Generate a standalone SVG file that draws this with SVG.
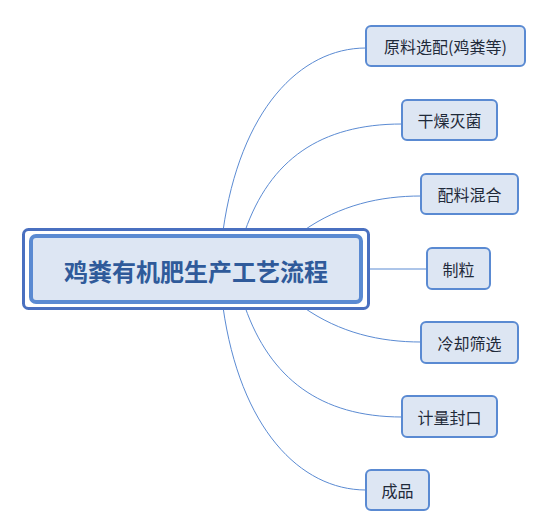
<svg xmlns="http://www.w3.org/2000/svg" width="538" height="517" viewBox="0 0 538 517">
<style>
.c{fill:none;stroke:#5b8bd3;stroke-width:1}
.n{fill:#dde6f3;stroke:#5a8ad2;stroke-width:2}
.t{font-family:"Noto Sans CJK SC","Noto Sans",sans-serif;font-size:16px;fill:#1f2a3a;text-anchor:middle;dominant-baseline:central}
.m{font-family:"Noto Sans CJK SC","Noto Sans",sans-serif;font-size:24px;font-weight:bold;fill:#2f5a9a;text-anchor:middle;dominant-baseline:central}
</style>
<rect width="538" height="517" fill="#ffffff"/>
<g id="connectors">
<path class="c" d="M223,231 C240,110 300,48 366,48"/>
<path class="c" d="M245,231 C270,160 320,124 402,124"/>
<path class="c" d="M303,231 C340,205 380,196 421,196"/>
<path class="c" d="M369,269 L427,269"/>
<path class="c" d="M303,307 C340,333 380,342 421,342"/>
<path class="c" d="M245,307 C270,378 320,417 402,417"/>
<path class="c" d="M223,307 C240,428 300,490 366,490"/>
</g>
<g id="center">
<rect x="23.5" y="229.5" width="345" height="79" rx="5" fill="#ffffff" stroke="#4a70c0" stroke-width="3"/>
<rect x="31" y="236" width="330" height="66" rx="5" fill="#dde6f3" stroke="#5a8ad2" stroke-width="4"/>
<text class="m" x="196" y="270">鸡粪有机肥生产工艺流程</text>
</g>
<g id="n1"><rect class="n" x="366" y="26" width="159" height="40" rx="5"/><text class="t" x="445.5" y="46">原料选配(鸡粪等)</text></g>
<g id="n2"><rect class="n" x="402" y="100" width="95" height="40" rx="5"/><text class="t" x="449.5" y="120">干燥灭菌</text></g>
<g id="n3"><rect class="n" x="421" y="174" width="97" height="40" rx="5"/><text class="t" x="469.5" y="194">配料混合</text></g>
<g id="n4"><rect class="n" x="427" y="248" width="63" height="41" rx="5"/><text class="t" x="458.5" y="268.5">制粒</text></g>
<g id="n5"><rect class="n" x="421" y="322" width="97" height="41" rx="5"/><text class="t" x="469.5" y="342.5">冷却筛选</text></g>
<g id="n6"><rect class="n" x="402" y="396" width="95" height="41" rx="5"/><text class="t" x="449.5" y="416.5">计量封口</text></g>
<g id="n7"><rect class="n" x="366" y="470" width="63" height="40" rx="5"/><text class="t" x="397.5" y="490">成品</text></g>
</svg>
